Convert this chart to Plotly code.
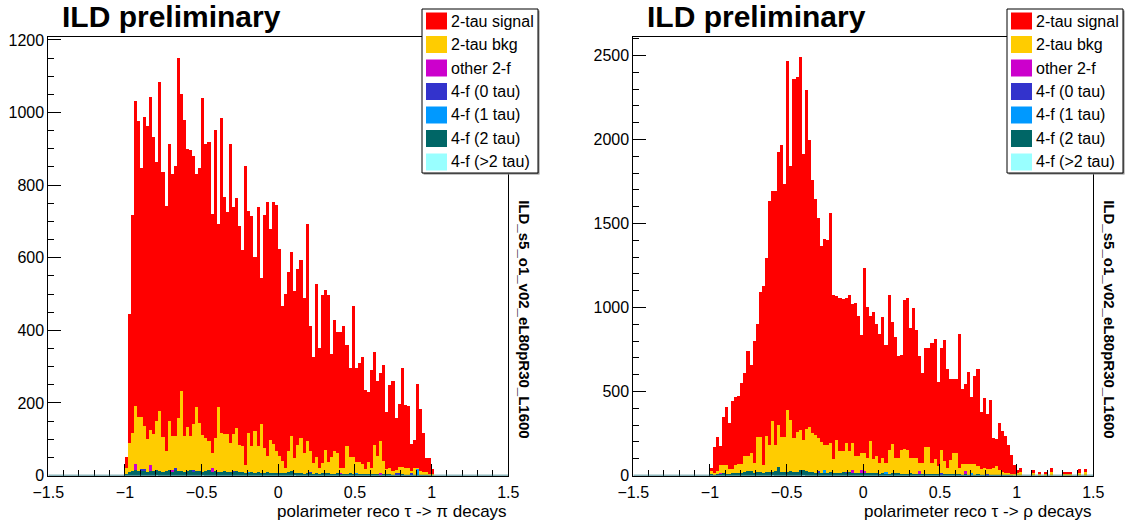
import plotly.graph_objects as go

W, H = 1127, 522
BW = 0.02  # histogram bin width

# ---------------- LEFT: tau -> pi ----------------
sig_L = [31, 355, 601, 839, 816, 686, 853, 861, 917, 817,
         714, 906, 731, 675, 764, 722, 742, 992, 818, 870,
         765, 788, 737, 641, 703, 927, 809, 824, 658, 849,
         505, 867, 653, 612, 824, 624, 634, 603, 539, 824,
         612, 635, 480, 660, 402, 643, 700, 581, 666, 678,
         569, 425, 479, 493, 506, 460, 486, 490, 428, 599,
         344, 291, 477, 330, 463, 443, 461, 284, 362, 332,
         374, 392, 279, 245, 418, 260, 273, 293, 217, 192,
         271, 256, 208, 188, 265, 157, 227, 247, 144, 173,
         271, 172, 170, 74, 78, 231, 170, 107, 39, 43,
         15]
bkg_L = [16, 80, 105, 160, 148, 143, 118, 91, 97, 103,
         134, 164, 94, 54, 135, 94, 90, 146, 222, 99,
         122, 94, 128, 177, 132, 101, 92, 80, 41, 92,
         178, 107, 103, 106, 79, 102, 119, 76, 72, 22,
         106, 71, 114, 72, 133, 69, 44, 93, 79, 60,
         47, 35, 14, 58, 98, 41, 75, 97, 57, 88,
         58, 30, 45, 16, 29, 63, 31, 47, 63, 56,
         13, 17, 76, 46, 46, 29, 33, 28, 14, 32,
         18, 79, 50, 88, 37, 13, 18, 11, 7, 18,
         21, 19, 19, 7, 19, 1, 12, 8, 9, 4,
         3]
f4_2tau_L = [4, 10, 12, 14, 12, 14, 13, 10, 12, 12,
             14, 13, 11, 13, 14, 12, 14, 13, 12, 10,
             12, 14, 11, 12, 13, 10, 12, 14, 9, 12,
             11, 10, 12, 9, 11, 10, 12, 9, 10, 8,
             9, 10, 8, 9, 8, 7, 9, 6, 8, 7,
             8, 6, 7, 9, 12, 6, 8, 7, 5, 6,
             7, 5, 6, 5, 6, 5, 6, 5, 4, 6,
             5, 4, 5, 6, 4, 5, 4, 5, 4, 5,
             3, 4, 3, 4, 3, 4, 3, 2, 3, 2,
             3, 2, 2, 3, 2, 2, 1, 2, 1, 1,
             0]
# sparse small components: bin low edges and values
oth2f_L_bins = [-0.94, -0.84, -0.70, -0.44, 0.40, 0.66]
oth2f_L = [18, 16, 2, 12, 3, 2]
f4_0tau_L_bins = [-0.90, -0.88, -0.68, -0.56, -0.30, 0.20, 0.76, 0.78, 0.86]
f4_0tau_L = [3, 5, 6, 4, 3, 2, 5, 4, 3]
f4_1tau_L_bins = [-0.20, 0.50, 0.90]
f4_1tau_L = [2, 3, 18]
f4_gt2_L_bins = [-0.80, -0.50, 0.10, 0.30, 0.70]
f4_gt2_L = [1, 1, 2, 1, 1]

# ---------------- RIGHT: tau -> rho ----------------
sig_R = [20, 155, 202, 110, 284, 342, 270, 402, 401, 405,
         481, 492, 621, 520, 723, 671, 865, 1062, 1062, 1454,
         1369, 1513, 1627, 1738, 1508, 2083, 1512, 2137, 2115, 2222,
         1701, 2018, 1708, 1504, 1399, 1310, 1167, 1226, 1220, 1369,
         978, 853, 913, 907, 864, 932, 824, 909, 829, 700,
         1101, 897, 748, 875, 784, 770, 839, 699, 928, 723,
         720, 605, 571, 889, 906, 774, 893, 762, 635, 536,
         589, 589, 715, 716, 499, 611, 724, 589, 484, 445,
         444, 799, 441, 471, 546, 397, 520, 579, 341, 422,
         333, 408, 178, 162, 278, 244, 222, 163, 115, 55,
         14, 26]
bkg_R = [20, 10, 18, 51, 53, 57, 30, 26, 53, 55,
         57, 101, 95, 109, 59, 210, 208, 49, 212, 159,
         302, 155, 250, 206, 208, 369, 305, 204, 236, 240,
         183, 248, 270, 234, 228, 200, 184, 149, 163, 176,
         85, 198, 131, 127, 173, 125, 162, 103, 107, 103,
         106, 93, 188, 85, 103, 65, 91, 57, 139, 178,
         93, 93, 139, 147, 142, 93, 97, 97, 47, 65,
         163, 165, 67, 89, 48, 137, 77, 40, 83, 125,
         123, 40, 67, 43, 67, 59, 67, 50, 32, 38,
         30, 36, 44, 52, 30, 18, 14, 14, 8, 10,
         16, 20]
f4_2tau_R = [6, 4, 8, 10, 12, 8, 10, 14, 12, 16,
             14, 18, 24, 26, 16, 18, 20, 16, 22, 20,
             18, 24, 50, 22, 20, 18, 24, 20, 22, 30,
             28, 26, 18, 20, 16, 18, 14, 12, 16, 18,
             14, 16, 14, 18, 16, 20, 14, 16, 12, 14,
             14, 12, 16, 14, 12, 10, 14, 12, 10, 12,
             10, 12, 10, 8, 10, 12, 8, 10, 8, 10,
             8, 6, 8, 10, 8, 6, 8, 6, 8, 6,
             8, 6, 4, 6, 4, 6, 4, 6, 4, 4,
             2, 4, 2, 4, 2, 2, 2, 2, 2, 0,
             0, 0]
tail_R_bins = [1.10, 1.14, 1.18, 1.22, 1.30, 1.32, 1.34, 1.40, 1.44]
tail_sig_R = [22, 14, 14, 26, 14, 14, 14, 24, 10]
tail_bkg_R = [12, 6, 6, 20, 6, 6, 6, 12, 26]
oth2f_R_bins = [-0.94, -0.08, -0.02, 0.00, 0.36, 0.66]
oth2f_R = [4, 18, 18, 15, 20, 22]
f4_0tau_R_bins = [-0.30, -0.12, 0.50, 0.80]
f4_0tau_R = [6, 5, 6, 4]
f4_1tau_R_bins = [-0.26, 0.14, 0.70]
f4_1tau_R = [18, 6, 6]
f4_gt2_R_bins = [-0.60, -0.40, 0.20]
f4_gt2_R = [3, 3, 2]

# ---------------- labels / colours ----------------
legend_names = ["2-tau signal", "2-tau bkg", "other 2-f", "4-f (0 tau)",
                "4-f (1 tau)", "4-f (2 tau)", "4-f (>2 tau)"]
colors = ["#ff0000", "#ffcc00", "#cc00cc", "#3333cc",
          "#0099ff", "#006666", "#99ffff"]
x_titles = ["polarimeter reco \u03c4 -> \u03c0 decays",
            "polarimeter reco \u03c4 -> \u03c1 decays"]
side_label = "ILD_s5_o1_v02_eL80pR30_L1600"
title_text = "ILD preliminary"

FONT = "Liberation Sans, Arial, Helvetica, sans-serif"


def main_edges(n):
    return [round(-1.0 + BW * i, 2) for i in range(n)]


def centers(edges):
    return [round(e + BW / 2, 3) for e in edges]


fig = go.Figure()


def add_bar(xe, y, color, name, ax):
    fig.add_trace(go.Bar(
        x=centers(xe), y=y, width=BW, name=name,
        marker=dict(color=color, line=dict(width=0)),
        showlegend=False, xaxis="x" if ax == 1 else "x2",
        yaxis="y" if ax == 1 else "y2"))


# left stack (bottom -> top)
eL = main_edges(len(sig_L))
add_bar(f4_gt2_L_bins, f4_gt2_L, colors[6], legend_names[6], 1)
add_bar(eL, f4_2tau_L, colors[5], legend_names[5], 1)
add_bar(f4_1tau_L_bins, f4_1tau_L, colors[4], legend_names[4], 1)
add_bar(f4_0tau_L_bins, f4_0tau_L, colors[3], legend_names[3], 1)
add_bar(oth2f_L_bins, oth2f_L, colors[2], legend_names[2], 1)
add_bar(eL, bkg_L, colors[1], legend_names[1], 1)
add_bar(eL, sig_L, colors[0], legend_names[0], 1)

# right stack
eR = main_edges(len(sig_R))
add_bar(f4_gt2_R_bins, f4_gt2_R, colors[6], legend_names[6], 2)
add_bar(eR, f4_2tau_R, colors[5], legend_names[5], 2)
add_bar(f4_1tau_R_bins, f4_1tau_R, colors[4], legend_names[4], 2)
add_bar(f4_0tau_R_bins, f4_0tau_R, colors[3], legend_names[3], 2)
add_bar(oth2f_R_bins, oth2f_R, colors[2], legend_names[2], 2)
add_bar(eR + tail_R_bins, bkg_R + tail_bkg_R, colors[1], legend_names[1], 2)
add_bar(eR + tail_R_bins, sig_R + tail_sig_R, colors[0], legend_names[0], 2)


def px(x):
    return x / W


def py(y):
    return 1 - y / H


Y_TOP, Y_BOT = 37.0, 475.5
panels = [(48.3, 508.3), (633.3, 1093.3)]

xaxis_common = dict(
    range=[-1.5, 1.5], tick0=0, dtick=0.5, ticks="inside", ticklen=12,
    tickwidth=1, tickcolor="black", showline=True, linecolor="black",
    linewidth=1, mirror=True, showgrid=False, zeroline=False,
    automargin=False, ticklabelstandoff=2,
    tickfont=dict(family=FONT, size=16, color="black"),
    minor=dict(dtick=0.1, ticks="inside", ticklen=6, tickcolor="black",
               tickwidth=1, showgrid=False),
    fixedrange=True)
yaxis_common = dict(
    tick0=0, ticks="inside", ticklen=13, tickwidth=1, tickcolor="black",
    showline=True, linecolor="black", linewidth=1, mirror=True,
    showgrid=False, zeroline=False, automargin=False,
    tickfont=dict(family=FONT, size=16, color="black"), fixedrange=True)

fig.update_layout(
    width=W, height=H, margin=dict(l=0, r=0, t=0, b=0, pad=0, autoexpand=False),
    paper_bgcolor="white", plot_bgcolor="white",
    barmode="stack", bargap=0, showlegend=False,
    font=dict(family=FONT, color="black"),
    xaxis=dict(domain=[px(panels[0][0]), px(panels[0][1])], anchor="y",
               **xaxis_common),
    yaxis=dict(domain=[py(Y_BOT), py(Y_TOP)], anchor="x", range=[0, 1208],
               dtick=200,
               minor=dict(dtick=50, ticks="inside", ticklen=6,
                          tickcolor="black", tickwidth=1, showgrid=False),
               **yaxis_common),
    xaxis2=dict(domain=[px(panels[1][0]), px(panels[1][1])], anchor="y2",
                **xaxis_common),
    yaxis2=dict(domain=[py(Y_BOT), py(Y_TOP)], anchor="x2", range=[0, 2610],
                dtick=500,
                minor=dict(dtick=100, ticks="inside", ticklen=6,
                           tickcolor="black", tickwidth=1, showgrid=False),
                **yaxis_common),
)

shapes = []
annotations = []
for k, (x0, x1) in enumerate(panels):
    xr = "x" if k == 0 else "x2"
    yr = "y" if k == 0 else "y2"
    # dark line along zero (histogram baseline over axis)
    shapes.append(dict(type="line", xref=xr, yref=yr, x0=-1.5, x1=1.5,
                       y0=0, y1=0, line=dict(color="#1f6f7a", width=1.5),
                       layer="above"))
    # title
    annotations.append(dict(text="<b>%s</b>" % title_text, x=px(x0 + 11.5),
                            y=py(16.5), xref="paper", yref="paper",
                            xanchor="left", yanchor="middle", showarrow=False,
                            font=dict(family=FONT, size=30, color="black")))
    # x-axis title, right aligned
    annotations.append(dict(text=x_titles[k], x=px(x1), y=py(511),
                            xref="paper", yref="paper", xanchor="right",
                            yanchor="middle", showarrow=False, borderpad=0,
                            font=dict(family=FONT, size=17, color="black")))
    # vertical side label
    annotations.append(dict(text="<b>%s</b>" % side_label,
                            x=px(x1 + 16.5), y=py(320), xref="paper",
                            yref="paper", xanchor="center", yanchor="middle",
                            textangle=90, showarrow=False,
                            font=dict(family=FONT, size=15, color="black")))
    # legend box
    lx0 = x0 + 373.7
    lx1 = lx0 + 116
    shapes.append(dict(type="rect", xref="paper", yref="paper",
                       x0=px(lx0 + 1.5), x1=px(lx1 + 1.5), y0=py(174.5),
                       y1=py(10.5), fillcolor="#888888",
                       line=dict(width=0), layer="above"))
    shapes.append(dict(type="rect", xref="paper", yref="paper",
                       x0=px(lx0), x1=px(lx1), y0=py(173), y1=py(9),
                       fillcolor="white", line=dict(color="black", width=1),
                       layer="above"))
    for i, (nm, col) in enumerate(zip(legend_names, colors)):
        cy = 21 + 23.5 * i
        shapes.append(dict(type="rect", xref="paper", yref="paper",
                           x0=px(lx0 + 4), x1=px(lx0 + 25), y0=py(cy + 8.5),
                           y1=py(cy - 8.5), fillcolor=col,
                           line=dict(width=0), layer="above"))
        annotations.append(dict(text=nm, x=px(lx0 + 27), y=py(cy),
                                xref="paper", yref="paper", xanchor="left",
                                yanchor="middle", showarrow=False,
                                font=dict(family=FONT, size=16,
                                          color="black")))

fig.update_layout(shapes=shapes, annotations=annotations)
fig.write_html("out.html", config={"displayModeBar": False})
